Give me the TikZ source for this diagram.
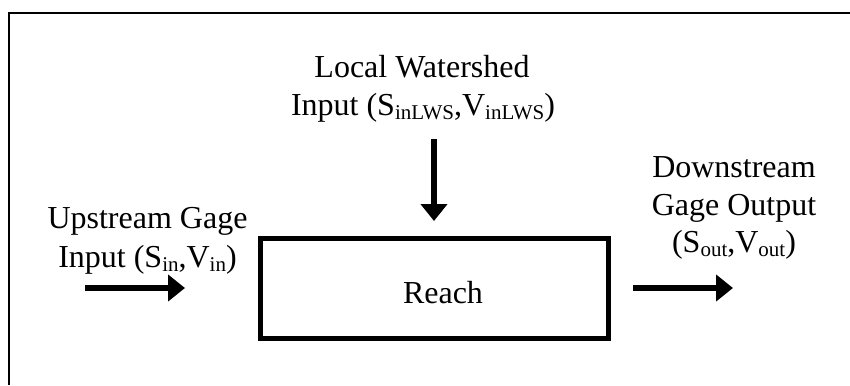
\documentclass[tikz,border=0pt]{standalone}
\usepackage{fontspec}
\setmainfont{Liberation Serif}
\usetikzlibrary{arrows.meta}
\newcommand\sbs[1]{\raisebox{-4pt}{\fontsize{21}{21}\selectfont #1}}
\tikzset{
  lbl/.style={anchor=base, inner sep=0pt, font=\fontsize{32}{39}\selectfont},
  boxst/.style={draw, line width=5pt, minimum width=348.5pt, minimum height=100pt, inner sep=0pt},
  arr/.style={line width=6pt, -{Triangle[width=26pt,length=17pt]}},
  frame/.style={line width=2pt}
}
\begin{document}
\begin{tikzpicture}[x=1pt,y=-1pt]
\useasboundingbox (0,0) rectangle (850,385);
\coordinate (fbl) at (9,385);
\coordinate (ftl) at (9,13);
\coordinate (ftr) at (850,13);
\draw[frame] (fbl) -- (ftl) -- (ftr);

\node[boxst] (reach) at (434.25,288) {};
\node[lbl] (reachlbl) at (443,303) {Reach};

\node[lbl] (lws1) at (422,78) {Local Watershed};
\node[lbl] (lws2) at (423,115) {Input (S\sbs{inLWS},V\sbs{inLWS})};

\node[lbl] (up1) at (147.5,228) {Upstream Gage};
\node[lbl] (up2) at (147.5,267) {Input (S\sbs{in},V\sbs{in})};

\node[lbl] (dn1) at (734,177) {Downstream};
\node[lbl] (dn2) at (734,215) {Gage Output};
\node[lbl] (dn3) at (734,252) {(S\sbs{out},V\sbs{out})};

\coordinate (lwsA) at (434,139);
\coordinate (lwsB) at (434,221);
\coordinate (upA) at (85,288);
\coordinate (upB) at (185,288);
\coordinate (dnA) at (633,288);
\coordinate (dnB) at (733,288);
\draw[arr] (lwsA) -- (lwsB);
\draw[arr] (upA) -- (upB);
\draw[arr] (dnA) -- (dnB);
\end{tikzpicture}
\end{document}
